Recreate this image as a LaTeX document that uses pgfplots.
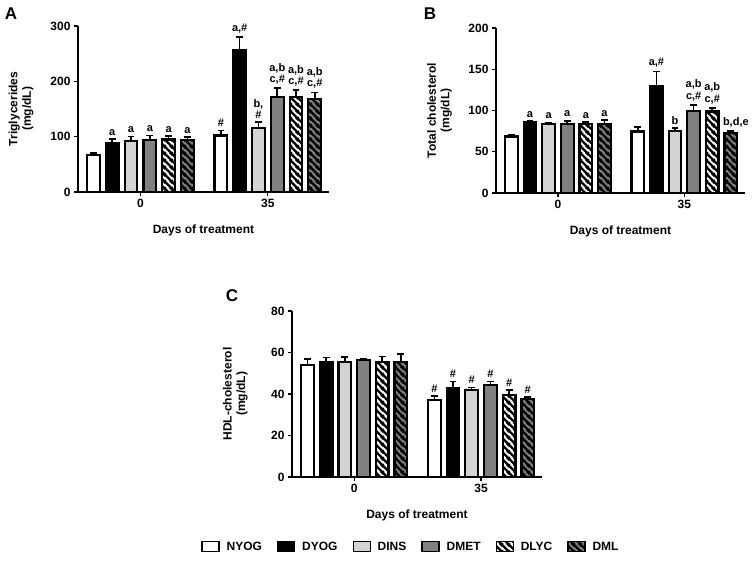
\documentclass[border=0pt]{standalone}
\usepackage{fontspec}
\setmainfont{Liberation Sans}
\newfontfamily\yfont{Liberation Sans}
\usepackage{pgfplots}
\usepackage{pgfplotstable}
\pgfplotsset{compat=1.18}
\usetikzlibrary{patterns}

\definecolor{lightg}{HTML}{D3D3D3}
\definecolor{midg}{HTML}{808080}

\pgfdeclarepatternformonly{thickstripes}{\pgfqpoint{0pt}{0pt}}{\pgfqpoint{6.6pt}{6.6pt}}{\pgfqpoint{6.6pt}{6.6pt}}{%
  \pgfsetlinewidth{2.4pt}%
  \pgfpathmoveto{\pgfqpoint{-1pt}{7.6pt}}\pgfpathlineto{\pgfqpoint{7.6pt}{-1pt}}%
  \pgfpathmoveto{\pgfqpoint{-1.5pt}{1.5pt}}\pgfpathlineto{\pgfqpoint{1.5pt}{-1.5pt}}%
  \pgfpathmoveto{\pgfqpoint{5.1pt}{8.1pt}}\pgfpathlineto{\pgfqpoint{8.1pt}{5.1pt}}%
  \pgfusepath{stroke}}

% day: 0 = day 0, 1 = day 35 (group position)
\pgfplotstableread{
day NYOG NYOGe DYOG DYOGe DINS DINSe DMET DMETe DLYC DLYCe DML DMLe
0   67   3.5   89   6.5   92   8     94.5 7.5   95   6     94  5
1   102  9     257  23    116  10    172  16    172  12    167.5 12.5
}\tg
\pgfplotstableread{
day NYOG NYOGe DYOG DYOGe DINS DINSe DMET DMETe DLYC DLYCe DML DMLe
0   68.5 2.5   86.3 1.0   84   1.2   83.5 4.0   83.5 2.5   84  4.4
1   74.6 5.6   130  17.5  75   3.6   99.6 7.3   98.8 4.4   72.6 2.8
}\tc
\pgfplotstableread{
day NYOG NYOGe DYOG DYOGe DINS DINSe DMET DMETe DLYC DLYCe DML DMLe
0   54.1 2.8   55.6 1.9   55.6 2.2   56.2 0.8   55.4 2.7   55.6 3.8
1   37.3 1.6   42.7 3.4   41.8 1.3   44.2 1.9   39.5 2.3   37.4 1.1
}\hdl

\pgfplotsset{
  panel/.style={
    scale only axis, anchor=south west,
    axis x line*=bottom, axis y line*=left,
    axis line style={line width=1.6pt,-},
    tick align=outside, major tick length=4pt,
    tick style={line width=1.3pt, black},
    xtick={0,1}, xticklabels={0,35},
    xmin=-0.49, xmax=1.48, ymin=0,
    clip=false,
    /pgf/number format/assume math mode=true,
    tick label style={font=\bfseries\fontsize{12}{14}\selectfont},
    xlabel={Days of treatment},
    xlabel style={at={(axis description cs:0.5,-0.23)}, anchor=center, font=\bfseries\fontsize{12}{14}\selectfont},
    ylabel style={at={(axis description cs:-0.227,0.5)}, anchor=center, align=center, font=\yfont\bfseries\fontsize{12}{13.5}\selectfont},
  },
  gbar/.style={ybar, bar width=0.1, bar shift=0pt, draw=black, line width=2.2pt,
    error bars/y dir=plus, error bars/y explicit,
    error bars/error bar style={line width=1.6pt, black},
    error bars/error mark options={rotate=90, line width=1.6pt, mark size=3.4pt, black}},
  nyog/.style={gbar, fill=white},
  dyog/.style={gbar, fill=black},
  dins/.style={gbar, fill=lightg},
  dmet/.style={gbar, fill=midg},
  dlyc/.style={gbar, fill=white, postaction={pattern=thickstripes}},
  dml/.style={gbar, fill=midg, postaction={pattern=thickstripes}},
}
\tikzset{ann/.style={anchor=south, font=\bfseries\fontsize{11}{11.5}\selectfont, inner sep=1pt, yshift=2.5pt, align=center}}

\begin{document}
\begin{tikzpicture}
\path[use as bounding box] (0pt,0pt) rectangle (753pt,564pt);

% ---------- Panel A ----------
\begin{axis}[panel, at={(78pt,372pt)}, width=251pt, height=166pt,
  ymax=300, ytick={0,100,200,300},
  ylabel={Triglycerides\\(mg/dL)}]
\addplot[nyog] table[x expr=\thisrow{day}-0.368, y=NYOG, y error=NYOGe] {\tg};
\addplot[dyog] table[x expr=\thisrow{day}-0.221, y=DYOG, y error=DYOGe] {\tg};
\addplot[dins] table[x expr=\thisrow{day}-0.074, y=DINS, y error=DINSe] {\tg};
\addplot[dmet] table[x expr=\thisrow{day}+0.074, y=DMET, y error=DMETe] {\tg};
\addplot[dlyc] table[x expr=\thisrow{day}+0.221, y=DLYC, y error=DLYCe] {\tg};
\addplot[dml]  table[x expr=\thisrow{day}+0.368, y=DML,  y error=DMLe] {\tg};
\node[ann] at (axis cs:-0.221,95.5) {a};
\node[ann] at (axis cs:-0.074,100) {a};
\node[ann] at (axis cs:0.074,102) {a};
\node[ann] at (axis cs:0.221,101) {a};
\node[ann] at (axis cs:0.368,99) {a};
\node[ann] at (axis cs:0.632,111) {\#};
\node[ann] at (axis cs:0.779,280) {a,\#};
\node[ann] at (axis cs:0.926,126) {b,\\\#};
\node[ann] at (axis cs:1.074,188) {a,b\\c,\#};
\node[ann] at (axis cs:1.221,184) {a,b\\c,\#};
\node[ann] at (axis cs:1.368,180) {a,b\\c,\#};
\end{axis}

% ---------- Panel B ----------
\begin{axis}[panel, at={(496pt,371pt)}, width=249pt, height=165pt,
  ymax=200, ytick={0,50,100,150,200},
  ylabel={Total cholesterol\\(mg/dL)}]
\addplot[nyog] table[x expr=\thisrow{day}-0.368, y=NYOG, y error=NYOGe] {\tc};
\addplot[dyog] table[x expr=\thisrow{day}-0.221, y=DYOG, y error=DYOGe] {\tc};
\addplot[dins] table[x expr=\thisrow{day}-0.074, y=DINS, y error=DINSe] {\tc};
\addplot[dmet] table[x expr=\thisrow{day}+0.074, y=DMET, y error=DMETe] {\tc};
\addplot[dlyc] table[x expr=\thisrow{day}+0.221, y=DLYC, y error=DLYCe] {\tc};
\addplot[dml]  table[x expr=\thisrow{day}+0.368, y=DML,  y error=DMLe] {\tc};
\node[ann] at (axis cs:-0.221,87.3) {a};
\node[ann] at (axis cs:-0.074,85.2) {a};
\node[ann] at (axis cs:0.074,87.5) {a};
\node[ann] at (axis cs:0.221,86) {a};
\node[ann] at (axis cs:0.368,88.4) {a};
\node[ann] at (axis cs:0.779,147.5) {a,\#};
\node[ann] at (axis cs:0.926,78.6) {b};
\node[ann] at (axis cs:1.074,106.9) {a,b\\c,\#};
\node[ann] at (axis cs:1.221,103.2) {a,b\\c,\#};
\node[ann, xshift=5pt] at (axis cs:1.368,75.4) {b,d,e};
\end{axis}

% ---------- Panel C ----------
\begin{axis}[panel, at={(292pt,87pt)}, width=250pt, height=166pt,
  ymax=80, ytick={0,20,40,60,80},
  ylabel={HDL-cholesterol\\(mg/dL)},
  legend style={at={(axis description cs:0.476,-0.42)}, anchor=center, draw=none,
    legend columns=6, font=\bfseries\fontsize{12}{14}\selectfont,
    /tikz/every odd column/.append style={column sep=5pt},
    /tikz/every even column/.append style={column sep=13pt}},
  legend image code/.code={\draw[#1, line width=1.2pt] (0pt,-5pt) rectangle (17pt,5pt);}]
\addplot[nyog] table[x expr=\thisrow{day}-0.368, y=NYOG, y error=NYOGe] {\hdl};
\addplot[dyog] table[x expr=\thisrow{day}-0.221, y=DYOG, y error=DYOGe] {\hdl};
\addplot[dins] table[x expr=\thisrow{day}-0.074, y=DINS, y error=DINSe] {\hdl};
\addplot[dmet] table[x expr=\thisrow{day}+0.074, y=DMET, y error=DMETe] {\hdl};
\addplot[dlyc] table[x expr=\thisrow{day}+0.221, y=DLYC, y error=DLYCe] {\hdl};
\addplot[dml]  table[x expr=\thisrow{day}+0.368, y=DML,  y error=DMLe] {\hdl};
\legend{NYOG, DYOG, DINS, DMET, DLYC, DML}
\node[ann] at (axis cs:0.632,38.9) {\#};
\node[ann] at (axis cs:0.779,46.1) {\#};
\node[ann] at (axis cs:0.926,43.1) {\#};
\node[ann] at (axis cs:1.074,46.1) {\#};
\node[ann] at (axis cs:1.221,41.8) {\#};
\node[ann] at (axis cs:1.368,38.5) {\#};
\end{axis}

% panel letters
\node[font=\bfseries\fontsize{17}{19}\selectfont] at (11pt,550pt) {A};
\node[font=\bfseries\fontsize{17}{19}\selectfont] at (430pt,550pt) {B};
\node[font=\bfseries\fontsize{17}{19}\selectfont] at (232pt,268pt) {C};
\end{tikzpicture}
\end{document}
